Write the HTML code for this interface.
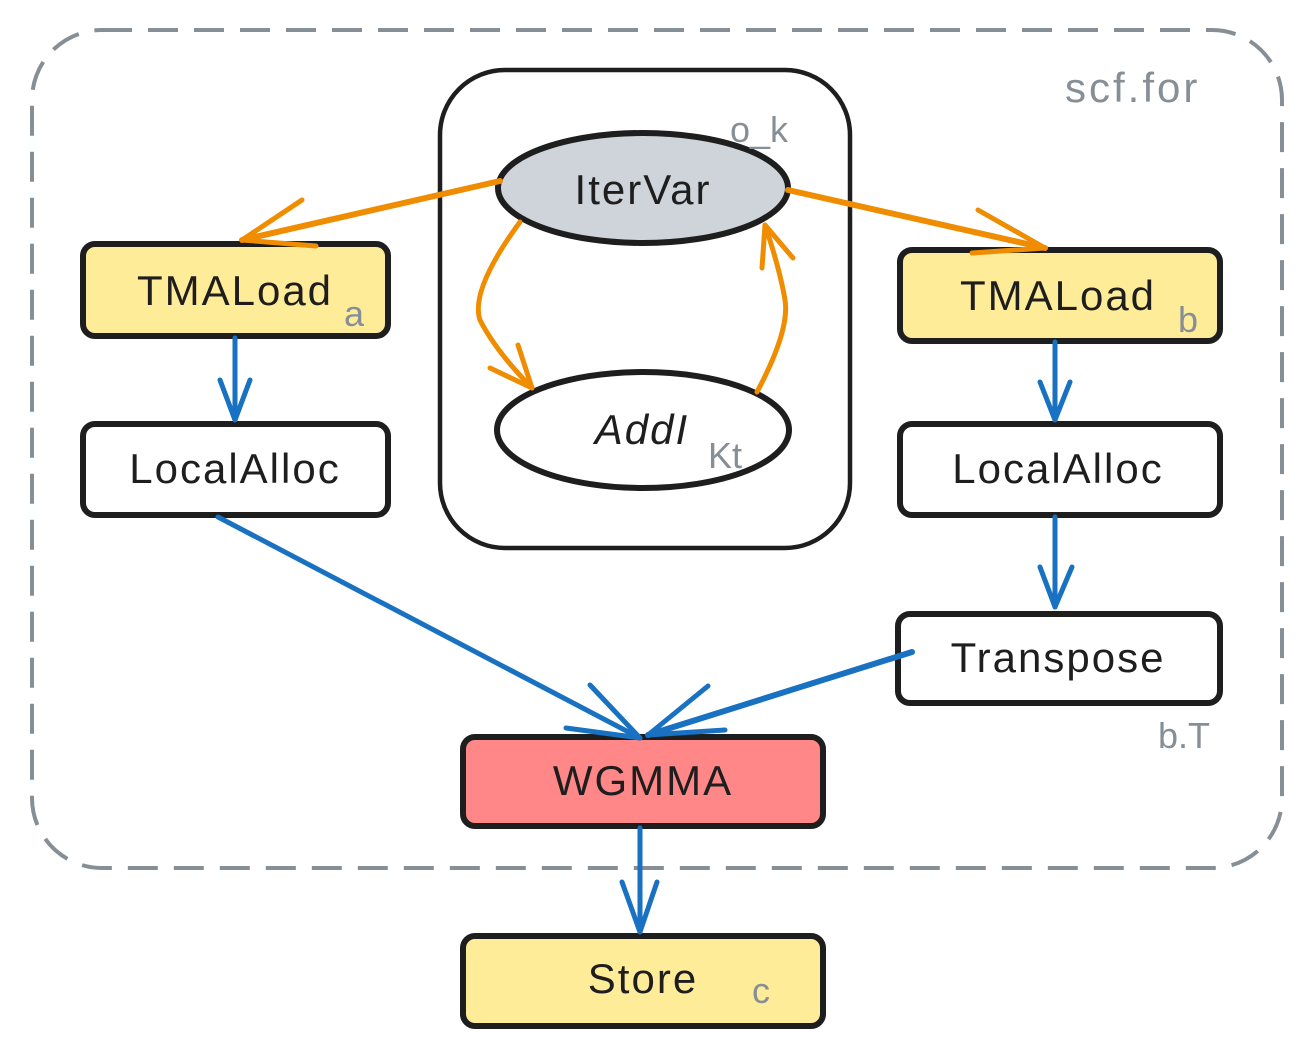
<!DOCTYPE html>
<html><head><meta charset="utf-8"><style>
html,body{margin:0;padding:0;background:#fff}
svg{display:block}
text{font-family:"Liberation Sans",sans-serif;}
</style></head><body>
<svg width="1310" height="1054" viewBox="0 0 1310 1054">
<rect x="32" y="30" width="1250" height="838" rx="70" fill="none" stroke="#868e96" stroke-width="4" stroke-dasharray="30 16"/>
<text x="1065" y="102" font-size="42" fill="#868e96" letter-spacing="3">scf.for</text>

<rect x="440" y="70" width="410" height="478" rx="65" fill="none" stroke="#1e1e1e" stroke-width="4.5"/>
<ellipse cx="643" cy="188" rx="145" ry="55" fill="#ced4da" stroke="#1e1e1e" stroke-width="6"/>
<text x="643" y="204" font-size="42" text-anchor="middle" fill="#1e1e1e" letter-spacing="2">IterVar</text>
<text x="730" y="142" font-size="36" fill="#868e96">o_k</text>
<ellipse cx="643" cy="430" rx="146" ry="58" fill="#fff" stroke="#1e1e1e" stroke-width="6"/>
<text x="642" y="444" font-size="42" font-style="italic" text-anchor="middle" fill="#1e1e1e" letter-spacing="2">AddI</text>
<text x="708" y="468" font-size="36" fill="#868e96">Kt</text>

<g stroke="#1e1e1e" stroke-width="6">
<rect x="83" y="244" width="305" height="92" rx="12" fill="#ffec99"/>
<rect x="83" y="424" width="305" height="91" rx="12" fill="#fff"/>
<rect x="900" y="250" width="320" height="91" rx="12" fill="#ffec99"/>
<rect x="900" y="424" width="320" height="91" rx="12" fill="#fff"/>
<rect x="898" y="614" width="322" height="89" rx="12" fill="#fff"/>
<rect x="463" y="737" width="360" height="89" rx="12" fill="#ff8787"/>
<rect x="463" y="936" width="360" height="90" rx="12" fill="#ffec99"/>
</g>
<g font-size="42" fill="#1e1e1e" text-anchor="middle" letter-spacing="2">
<text x="235" y="305">TMALoad</text>
<text x="235" y="483">LocalAlloc</text>
<text x="1058" y="310">TMALoad</text>
<text x="1058" y="483">LocalAlloc</text>
<text x="1058" y="672">Transpose</text>
<text x="643" y="795">WGMMA</text>
<text x="643" y="993">Store</text>
</g>
<g font-size="36" fill="#868e96">
<text x="344" y="326">a</text>
<text x="1178" y="332">b</text>
<text x="1158" y="748">b.T</text>
<text x="752" y="1003">c</text>
</g>

<g fill="none" stroke="#f08c00" stroke-width="5" stroke-linecap="round" stroke-linejoin="round">
<path d="M500 181 L242 240" stroke-width="6"/><path d="M302 200 L242 240 L316 246"/>
<path d="M788 190 L1045 248" stroke-width="6"/><path d="M978 210 L1045 248 L972 253"/>
<path d="M520 222 Q470 290 480 320 Q495 350 532 388"/><path d="M490 368 L532 388 L518 345"/>
<path d="M757 392 Q790 330 785 300 Q780 270 765 225"/><path d="M762 268 L765 225 L793 258"/>
</g>
<g fill="none" stroke="#1971c2" stroke-width="5" stroke-linecap="round" stroke-linejoin="round">
<path d="M235 338 L235 420"/><path d="M220 380 L235 420 L250 380"/>
<path d="M1055 342 L1055 420"/><path d="M1040 382 L1055 420 L1070 382"/>
<path d="M1055 517 L1055 607"/><path d="M1040 567 L1055 607 L1072 567"/>
<path d="M218 517 L640 738"/><path d="M590 685 L640 738 L566 728"/>
<path d="M912 652 L648 735" stroke-width="6"/><path d="M708 686 L648 735 L725 730"/>
<path d="M640 828 L640 932"/><path d="M622 882 L640 932 L657 882"/>
</g>
</svg>
</body></html>
